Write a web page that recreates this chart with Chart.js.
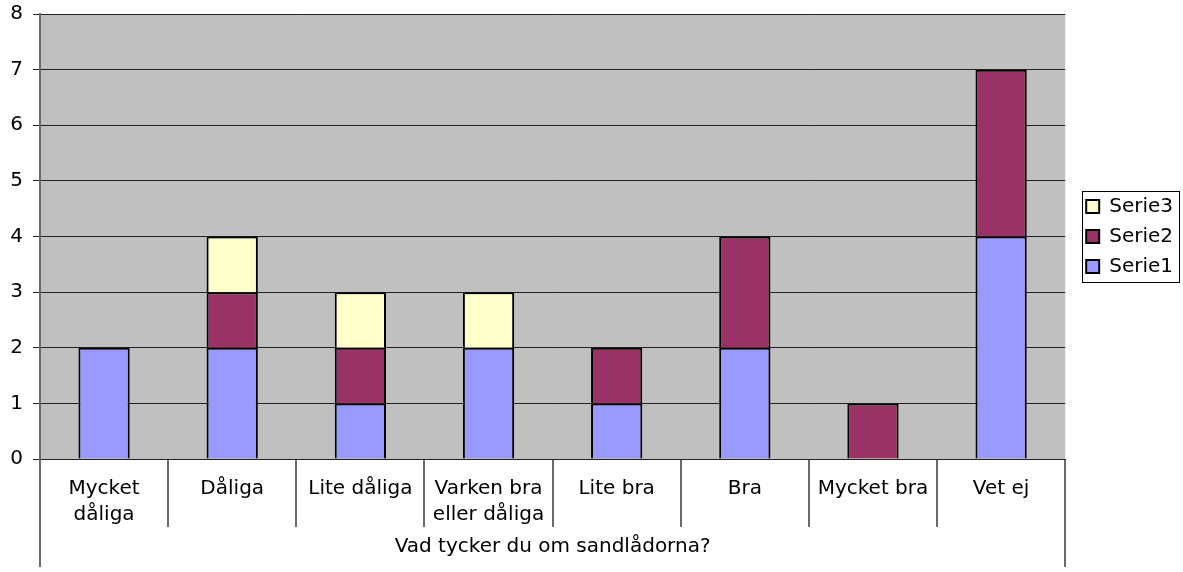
<!DOCTYPE html>
<html><head><meta charset="utf-8">
<script src="https://cdn.jsdelivr.net/npm/chart.js@4"></script>
<style>html,body{margin:0;padding:0;background:#fff}</style>
</head><body>
<canvas id="c" width="1183" height="572"></canvas>
<script>
const categories = [['Mycket', 'dåliga'], 'Dåliga', 'Lite dåliga', ['Varken bra', 'eller dåliga'], 'Lite bra', 'Bra', 'Mycket bra', 'Vet ej'];
const groupLabel = ['Vad tycker du om sandlådorna?'];
const serie1 = [2, 2, 1, 2, 1, 2, 0, 4];
const serie2 = [0, 1, 1, 0, 1, 2, 1, 3];
const serie3 = [0, 1, 1, 1, 0, 0, 0, 0];
const seriesNames = ['Serie1', 'Serie2', 'Serie3'];
const yMin = 0, yMax = 8, yStep = 1;

Chart.defaults.font.family = "'DejaVu Sans', Verdana, sans-serif";
Chart.defaults.font.size = 20;
Chart.defaults.color = '#000';

const plotBg = {
  id: 'plotBg',
  beforeDraw(chart) {
    const {ctx, chartArea: a} = chart;
    ctx.save();
    ctx.fillStyle = '#C0C0C0';
    ctx.fillRect(a.left, a.top, a.right - a.left, a.bottom - a.top);
    ctx.restore();
  }
};
const legendFrame = {
  id: 'legendFrame',
  afterDraw(chart) {
    const hb = chart.legend && chart.legend.legendHitBoxes;
    if (!hb || !hb.length) return;
    let l = Infinity, t = Infinity, r = -Infinity, b = -Infinity;
    hb.forEach(h => { l = Math.min(l, h.left); t = Math.min(t, h.top); r = Math.max(r, h.left + h.width); b = Math.max(b, h.top + h.height); });
    const ctx = chart.ctx;
    ctx.save();
    ctx.strokeStyle = '#000';
    ctx.lineWidth = 1;
    const x0 = Math.round(l - 4) + 0.5, y0 = Math.round(t - 6) + 0.5;
    const x1 = Math.round(r + 6) + 0.5, y1 = Math.round(b + 5) + 0.5;
    ctx.strokeRect(x0, y0, x1 - x0, y1 - y0);
    ctx.restore();
  }
};

const common = {borderColor: '#000', borderWidth: 2, borderSkipped: 'bottom', stack: 's', categoryPercentage: 1, barPercentage: 0.4, xAxisID: 'x', yAxisID: 'y'};

new Chart(document.getElementById('c'), {
  type: 'bar',
  data: {
    labels: categories,
    datasets: [
      Object.assign({label: seriesNames[0], data: serie1, backgroundColor: '#9999FF'}, common),
      Object.assign({label: seriesNames[1], data: serie2, backgroundColor: '#993366'}, common),
      Object.assign({label: seriesNames[2], data: serie3, backgroundColor: '#FFFFCC'}, common)
    ]
  },
  options: {
    responsive: false,
    animation: false,
    devicePixelRatio: 1,
    layout: {padding: {top: 14, right: 0, bottom: 5, left: 0}},
    plugins: {
      tooltip: {enabled: false},
      legend: {
        position: 'right', fullSize: false, reverse: true, align: 'center',
        labels: {boxWidth: 13, boxHeight: 13, padding: 10, color: '#000', font: {size: 20}}
      }
    },
    scales: {
      x: {
        type: 'category', position: 'bottom', stacked: true, offset: true,
        grid: {offset: true, drawOnChartArea: false, drawTicks: true, tickLength: 68, color: '#6a6a6a', lineWidth: 2},
        border: {display: true, color: '#222', width: 1},
        ticks: {autoSkip: false, maxRotation: 0, minRotation: 0, padding: -51, font: {size: 20, lineHeight: 1.3}},
        afterFit(s) { s.height = 68; }
      },
      x2: {
        type: 'category', position: 'bottom', labels: groupLabel, offset: true,
        grid: {offset: true, drawOnChartArea: false, drawTicks: true, tickLength: 40, color: '#6a6a6a', lineWidth: 2},
        border: {display: false},
        ticks: {autoSkip: false, maxRotation: 0, minRotation: 0, padding: -33.5, font: {size: 20, lineHeight: 1.3}},
        afterFit(s) { s.height = 40; }
      },
      y: {
        type: 'linear', position: 'left', stacked: true, min: yMin, max: yMax,
        ticks: {stepSize: yStep, padding: 10, font: {size: 20, lineHeight: 0.4}},
        grid: {color: '#222', lineWidth: 1, tickLength: 7, drawTicks: true},
        border: {display: true, color: '#6a6a6a', width: 2},
        afterFit(s) { s.width = 40; }
      },
      yR: {
        type: 'linear', position: 'right', display: true,
        grid: {display: false, drawTicks: false},
        ticks: {display: false},
        border: {display: false},
        afterFit(s) { s.width = 11; }
      }
    }
  },
  plugins: [plotBg, legendFrame]
});
</script>
</body></html>
